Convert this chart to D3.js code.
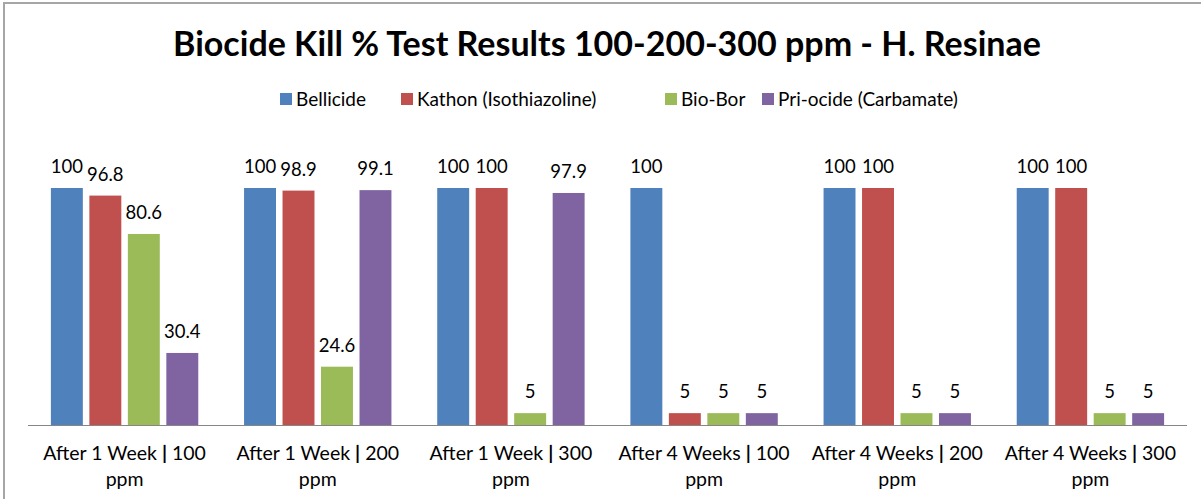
<!DOCTYPE html>
<html>
<head>
<meta charset="utf-8">
<script src="https://cdn.jsdelivr.net/npm/d3@7"></script>
<style>
  body { margin: 0; background: #fff; }
  svg { display: block; font-family: Lato, "Open Sans", sans-serif; }
</style>
</head>
<body>
<svg id="chart" width="1201" height="499"></svg>
<script>
// ---- data ----
const categories = [
  ["After 1 Week", "100", "ppm"],
  ["After 1 Week", "200", "ppm"],
  ["After 1 Week", "300", "ppm"],
  ["After 4 Weeks", "100", "ppm"],
  ["After 4 Weeks", "200", "ppm"],
  ["After 4 Weeks", "300", "ppm"]
];
const seriesNames = ["Bellicide", "Kathon (Isothiazoline)", "Bio-Bor", "Pri-ocide (Carbamate)"];
const bellicide = [100, 100, 100, 100, 100, 100];
const kathon = [96.8, 98.9, 100, 5, 100, 100];
const bioBor = [80.6, 24.6, 5, 5, 5, 5];
const priocide = [30.4, 99.1, 97.9, 5, 5, 5];
const seriesValues = [bellicide, kathon, bioBor, priocide];
const colours = ["#4f81bd", "#c0504d", "#9bbb59", "#8064a2"];

const svg = d3.select("#chart");

// outer frame (left + top)
svg.append("path")
  .attr("d", "M4,499 V3 H1201")
  .attr("fill", "none")
  .attr("stroke", "#a6a6a6")
  .attr("stroke-width", 2);

// title
svg.append("text")
  .attr("x", 607)
  .attr("y", 56)
  .attr("text-anchor", "middle")
  .attr("font-size", 34)
  .attr("font-weight", "bold")
  .attr("fill", "#000")
  .text("Biocide Kill % Test Results 100-200-300 ppm - H. Resinae");

// legend
const legendX = [280, 401, 665, 762];
const legend = svg.append("g");
seriesNames.forEach((name, i) => {
  legend.append("rect")
    .attr("x", legendX[i])
    .attr("y", 93)
    .attr("width", 12)
    .attr("height", 12)
    .attr("fill", colours[i]);
  legend.append("text")
    .attr("x", legendX[i] + 16)
    .attr("y", 106)
    .attr("font-size", 19)
    .attr("fill", "#000")
    .text(name);
});

// scales
const x0 = d3.scaleBand()
  .domain(d3.range(categories.length))
  .range([28, 1187])
  .paddingInner(0.237)
  .paddingOuter(0.1185);
const x1 = d3.scaleBand()
  .domain(d3.range(seriesNames.length))
  .range([0, x0.bandwidth()])
  .paddingInner(0.17);
const y = d3.scaleLinear()
  .domain([0, 100])
  .range([425, 188]);

// bars
const groups = svg.append("g")
  .selectAll("g")
  .data(categories)
  .join("g")
  .attr("transform", (d, i) => "translate(" + x0(i) + ",0)");

groups.selectAll("rect")
  .data((d, i) => seriesValues.map((s, j) => ({ s: j, v: s[i] })))
  .join("rect")
  .attr("x", d => x1(d.s))
  .attr("y", d => y(d.v))
  .attr("width", x1.bandwidth())
  .attr("height", d => y(0) - y(d.v))
  .attr("fill", d => colours[d.s]);

groups.selectAll("text")
  .data((d, i) => seriesValues.map((s, j) => ({ s: j, v: s[i] })))
  .join("text")
  .attr("x", d => x1(d.s) + x1.bandwidth() / 2)
  .attr("y", d => y(d.v) - 15)
  .attr("text-anchor", "middle")
  .attr("font-size", 18.5)
  .attr("fill", "#000")
  .text(d => d.v);

// category axis
svg.append("line")
  .attr("x1", 28)
  .attr("x2", 1187)
  .attr("y1", y(0) + 0.5)
  .attr("y2", y(0) + 0.5)
  .attr("stroke", "#868686")
  .attr("stroke-width", 1);

const cx = i => x0(i) + x0.bandwidth() / 2;
const catLabels = svg.append("g")
  .selectAll("g")
  .data(categories)
  .join("g");
const firstLine = catLabels.append("text")
  .attr("x", (d, i) => cx(i))
  .attr("y", 460)
  .attr("text-anchor", "middle")
  .attr("font-size", 19.5)
  .attr("fill", "#000");
firstLine.append("tspan").text(d => d[0] + " ");
firstLine.append("tspan").attr("font-weight", "bold").text("|");
firstLine.append("tspan").text(d => " " + d[1]);
catLabels.append("text")
  .attr("x", (d, i) => cx(i))
  .attr("y", 486)
  .attr("text-anchor", "middle")
  .attr("font-size", 19.5)
  .attr("fill", "#000")
  .text(d => d[2]);
</script>
</body>
</html>
